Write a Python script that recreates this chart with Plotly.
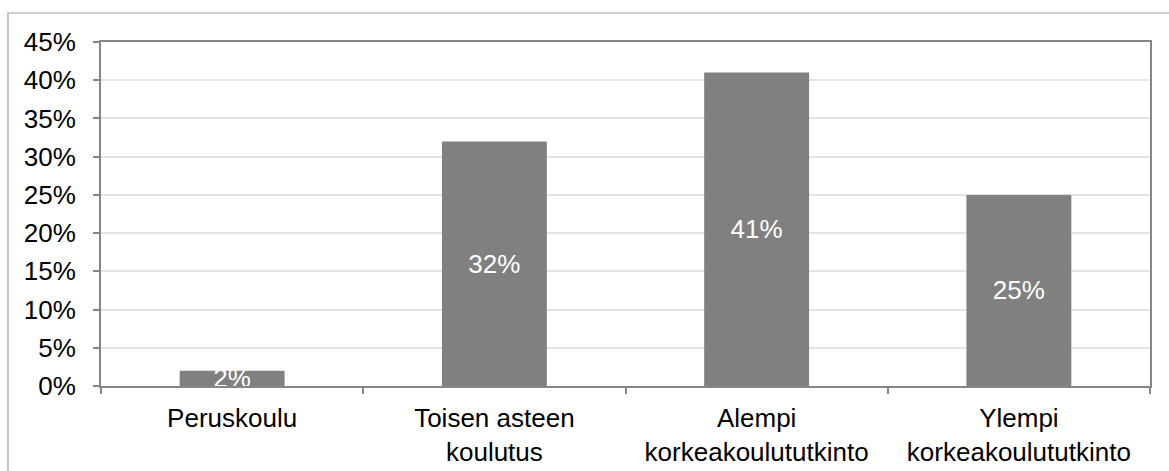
import plotly.graph_objects as go

# Koulutustaso (education level) shares, percent
categories = ["Peruskoulu", "Toisen asteen<br>koulutus", "Alempi<br>korkeakoulututkinto", "Ylempi<br>korkeakoulututkinto"]
shares = [2, 32, 41, 25]
y_ticks = [0, 5, 10, 15, 20, 25, 30, 35, 40, 45]

FONT = "Liberation Sans, Arial, sans-serif"
AXIS_GREY = "#868686"

fig = go.Figure(
    go.Bar(
        x=categories,
        y=shares,
        marker=dict(color="#808080", line=dict(width=0)),
        text=[f"{v}%" for v in shares],
        textposition="inside",
        insidetextanchor="middle",
        textangle=0,
        constraintext="none",
        cliponaxis=True,
        textfont=dict(family=FONT, size=26, color="white"),
        width=0.4,
    )
)

fig.update_layout(
    template="none",
    width=1169,
    height=471,
    margin=dict(l=101, r=19, t=42, b=85),
    paper_bgcolor="white",
    plot_bgcolor="white",
    showlegend=False,
    font=dict(family=FONT, size=26, color="black"),
    xaxis=dict(
        type="category",
        automargin=False,
        tickson="boundaries",
        ticks="outside",
        ticklen=6,
        tickwidth=2,
        tickcolor=AXIS_GREY,
        showline=True,
        linecolor=AXIS_GREY,
        linewidth=2,
        mirror=True,
        showgrid=False,
        tickfont=dict(family=FONT, size=26, color="black"),
        ticklabelstandoff=8,
    ),
    yaxis=dict(
        automargin=False,
        range=[0, 45],
        tickvals=y_ticks,
        ticktext=[f"{v}%" for v in y_ticks],
        ticks="outside",
        ticklen=6,
        tickwidth=2,
        tickcolor=AXIS_GREY,
        showline=True,
        linecolor=AXIS_GREY,
        linewidth=2,
        mirror=True,
        showgrid=True,
        gridcolor="#e4e4e4",
        gridwidth=1.5,
        zeroline=False,
        tickfont=dict(family=FONT, size=26, color="black"),
        ticklabelstandoff=12,
    ),
    shapes=[
        # outer chart frame (left and top edges)
        dict(
            type="rect", xref="paper", yref="paper",
            x0=-0.0887, x1=1.03, y0=-0.3, y1=1.0843,
            line=dict(color="#a0a0a0", width=1.2),
            fillcolor="rgba(0,0,0,0)", layer="below",
        )
    ],
)

fig.write_html("out.html")
